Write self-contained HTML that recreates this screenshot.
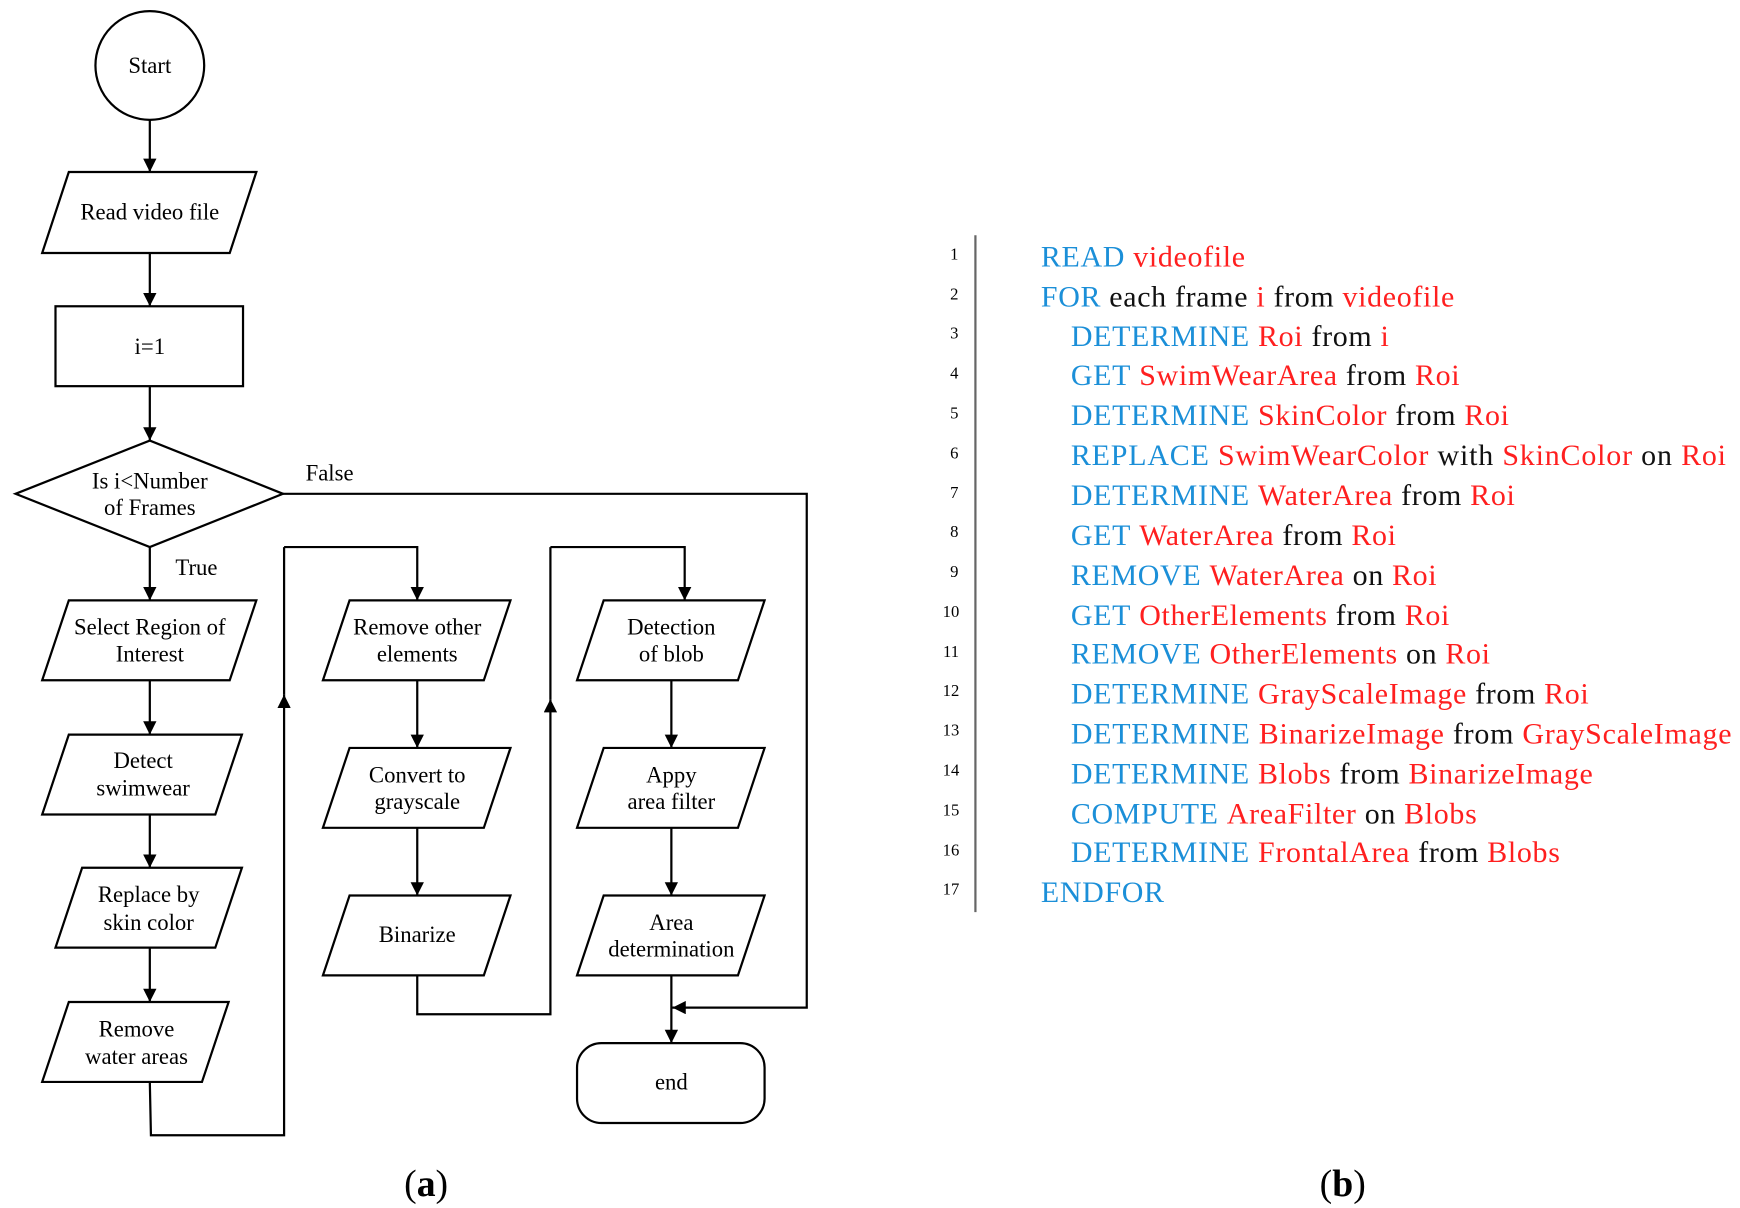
<!DOCTYPE html>
<html><head><meta charset="utf-8"><style>
html,body{margin:0;padding:0;background:#fff;}
svg{display:block;}
text{font-family:"Liberation Serif",serif;}
.f{font-size:20.5px;fill:#000;text-anchor:middle;}
.c{font-size:27px;letter-spacing:0.6px;}
.b{fill:#1b8fd8;}
.r{fill:#ff1f1f;}
.k{fill:#111;}
.n{font-size:15px;fill:#000;text-anchor:middle;}
</style></head><body>
<svg width="1740" height="1208" viewBox="0 0 1568 1088.6" xmlns="http://www.w3.org/2000/svg">
<defs>
<marker id="m" viewBox="0 0 10 10" refX="10" refY="5" markerWidth="18" markerHeight="12" orient="auto" markerUnits="userSpaceOnUse"><path d="M0,0 L10,5 L0,10z" fill="#000"/></marker></defs>
<g fill="none" stroke="#000" stroke-width="2">
<circle cx="135" cy="59" r="49"/>
<polygon points="62,155 231,155 207,228 38,228"/>
<rect x="50" y="276" width="169" height="72"/>
<polygon points="14,445 135,397 255,445 135,493"/>
<polygon points="62,541 231,541 207,613 38,613"/>
<polygon points="62,662 218,662 194,734 38,734"/>
<polygon points="74,782 218,782 194,854 50,854"/>
<polygon points="62,903 206,903 182,975 38,975"/>
<polygon points="315,541 460,541 436,613 291,613"/>
<polygon points="315,674 460,674 436,746 291,746"/>
<polygon points="315,807 460,807 436,879 291,879"/>
<polygon points="544,541 689,541 665,613 520,613"/>
<polygon points="544,674 689,674 665,746 520,746"/>
<polygon points="544,807 689,807 665,879 520,879"/>
<rect x="520" y="940" width="169" height="72" rx="22"/>
<g marker-end="url(#m)">
<line x1="135" y1="108" x2="135" y2="155"/>
<line x1="135" y1="228" x2="135" y2="276"/>
<line x1="135" y1="348" x2="135" y2="397"/>
<line x1="135" y1="493" x2="135" y2="541"/>
<line x1="135" y1="613" x2="135" y2="662"/>
<line x1="135" y1="734" x2="135" y2="782"/>
<line x1="135" y1="854" x2="135" y2="903"/>
<line x1="376" y1="613" x2="376" y2="674"/>
<line x1="376" y1="746" x2="376" y2="807"/>
<line x1="605" y1="613" x2="605" y2="674"/>
<line x1="605" y1="746" x2="605" y2="807"/>
<line x1="605" y1="879" x2="605" y2="940"/>
<polyline points="256,493 376,493 376,541"/>
<polyline points="496,493 617,493 617,541"/>
<polyline points="255,445 727,445 727,908 606,908"/>
<polyline points="135,975 136,1023 256,1023 256,626"/>
<polyline points="376,879 376,914 496,914 496,630"/>
</g>
<line x1="256" y1="626" x2="256" y2="493"/>
<line x1="496" y1="630" x2="496" y2="493"/>
<line x1="879" y1="212" x2="879" y2="822" stroke="#666"/>
</g>
<text class="f" x="135" y="66">Start</text>
<text class="f" x="135" y="198">Read video file</text>
<text class="f" x="135" y="319">i=1</text>
<text class="f" x="135" y="440">Is i&lt;Number</text>
<text class="f" x="135" y="464">of Frames</text>
<text class="f" x="297" y="433">False</text>
<text class="f" x="177" y="518">True</text>
<text class="f" x="135" y="572">Select Region of</text>
<text class="f" x="135" y="596">Interest</text>
<text class="f" x="129" y="692">Detect</text>
<text class="f" x="129" y="717">swimwear</text>
<text class="f" x="134" y="813">Replace by</text>
<text class="f" x="134" y="838">skin color</text>
<text class="f" x="123" y="934">Remove</text>
<text class="f" x="123" y="959">water areas</text>
<text class="f" x="376" y="572">Remove other</text>
<text class="f" x="376" y="596">elements</text>
<text class="f" x="376" y="705">Convert to</text>
<text class="f" x="376" y="729">grayscale</text>
<text class="f" x="376" y="849">Binarize</text>
<text class="f" x="605" y="572">Detection</text>
<text class="f" x="605" y="596">of blob</text>
<text class="f" x="605" y="705">Appy</text>
<text class="f" x="605" y="729">area filter</text>
<text class="f" x="605" y="838">Area</text>
<text class="f" x="605" y="862">determination</text>
<text class="f" x="605" y="982">end</text>
<text x="384" y="1078" style="font-size:34px;text-anchor:middle">(<tspan font-weight="bold">a</tspan>)</text>
<text x="1210" y="1078" style="font-size:34px;text-anchor:middle">(<tspan font-weight="bold">b</tspan>)</text>
<g>
<text class="n" x="860" y="234">1</text><text class="n" x="860" y="270">2</text><text class="n" x="860" y="305">3</text><text class="n" x="860" y="341">4</text><text class="n" x="860" y="377">5</text><text class="n" x="860" y="413">6</text><text class="n" x="860" y="449">7</text><text class="n" x="860" y="484">8</text><text class="n" x="860" y="520">9</text><text class="n" x="857" y="556">10</text><text class="n" x="857" y="592">11</text><text class="n" x="857" y="627">12</text><text class="n" x="857" y="663">13</text><text class="n" x="857" y="699">14</text><text class="n" x="857" y="735">15</text><text class="n" x="857" y="771">16</text><text class="n" x="857" y="806">17</text>
</g>
<g class="c">
<text x="938" y="240"><tspan class="b">READ</tspan> <tspan class="r">videofile</tspan></text>
<text x="938" y="276"><tspan class="b">FOR</tspan> <tspan class="k">each frame</tspan> <tspan class="r">i</tspan> <tspan class="k">from</tspan> <tspan class="r">videofile</tspan></text>
<text x="965" y="312"><tspan class="b">DETERMINE</tspan> <tspan class="r">Roi</tspan> <tspan class="k">from</tspan> <tspan class="r">i</tspan></text>
<text x="965" y="347"><tspan class="b">GET</tspan> <tspan class="r">SwimWearArea</tspan> <tspan class="k">from</tspan> <tspan class="r">Roi</tspan></text>
<text x="965" y="383"><tspan class="b">DETERMINE</tspan> <tspan class="r">SkinColor</tspan> <tspan class="k">from</tspan> <tspan class="r">Roi</tspan></text>
<text x="965" y="419" textLength="591" lengthAdjust="spacing"><tspan class="b">REPLACE</tspan> <tspan class="r">SwimWearColor</tspan> <tspan class="k">with</tspan> <tspan class="r">SkinColor</tspan> <tspan class="k">on</tspan> <tspan class="r">Roi</tspan></text>
<text x="965" y="455"><tspan class="b">DETERMINE</tspan> <tspan class="r">WaterArea</tspan> <tspan class="k">from</tspan> <tspan class="r">Roi</tspan></text>
<text x="965" y="491"><tspan class="b">GET</tspan> <tspan class="r">WaterArea</tspan> <tspan class="k">from</tspan> <tspan class="r">Roi</tspan></text>
<text x="965" y="527"><tspan class="b">REMOVE</tspan> <tspan class="r">WaterArea</tspan> <tspan class="k">on</tspan> <tspan class="r">Roi</tspan></text>
<text x="965" y="563"><tspan class="b">GET</tspan> <tspan class="r">OtherElements</tspan> <tspan class="k">from</tspan> <tspan class="r">Roi</tspan></text>
<text x="965" y="598"><tspan class="b">REMOVE</tspan> <tspan class="r">OtherElements</tspan> <tspan class="k">on</tspan> <tspan class="r">Roi</tspan></text>
<text x="965" y="634"><tspan class="b">DETERMINE</tspan> <tspan class="r">GrayScaleImage</tspan> <tspan class="k">from</tspan> <tspan class="r">Roi</tspan></text>
<text x="965" y="670" textLength="596" lengthAdjust="spacing"><tspan class="b">DETERMINE</tspan> <tspan class="r">BinarizeImage</tspan> <tspan class="k">from</tspan> <tspan class="r">GrayScaleImage</tspan></text>
<text x="965" y="706"><tspan class="b">DETERMINE</tspan> <tspan class="r">Blobs</tspan> <tspan class="k">from</tspan> <tspan class="r">BinarizeImage</tspan></text>
<text x="965" y="742"><tspan class="b">COMPUTE</tspan> <tspan class="r">AreaFilter</tspan> <tspan class="k">on</tspan> <tspan class="r">Blobs</tspan></text>
<text x="965" y="777"><tspan class="b">DETERMINE</tspan> <tspan class="r">FrontalArea</tspan> <tspan class="k">from</tspan> <tspan class="r">Blobs</tspan></text>
<text x="938" y="813"><tspan class="b">ENDFOR</tspan></text>
</g>
</svg>
</body></html>
